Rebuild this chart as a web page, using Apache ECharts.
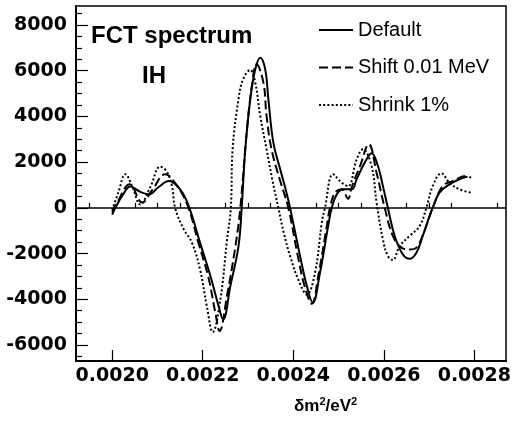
<!DOCTYPE html>
<html><head><meta charset="utf-8">
<script src="https://cdn.jsdelivr.net/npm/echarts@6/dist/echarts.min.js"></script>
<style>html,body{margin:0;padding:0;background:#fff}#c{width:514px;height:428px}</style>
</head><body><div id="c"></div>
<script>
// ---- data ----
const defaultX = [0.002000,0.002007,0.002023,0.002040,0.002062,0.002081,0.002102,0.002125,0.002150,0.002169,0.002194,0.002217,0.002235,0.002245,0.002261,0.002279,0.002286,0.002294,0.002305,0.002316,0.002327,0.002338,0.002345,0.002356,0.002371,0.002385,0.002393,0.002415,0.002430,0.002443,0.002459,0.002477,0.002485,0.002496,0.002510,0.002529,0.002540,0.002558,0.002573,0.002587,0.002598,0.002609,0.002624,0.002642,0.002657,0.002672,0.002686,0.002701,0.002708,0.002723,0.002745,0.002767,0.002785];
const defaultY = [-300,0,550,930,700,590,900,1170,810,80,-1520,-2985,-4300,-4880,-3420,-1670,0,2560,4750,6060,6570,6060,4750,2850,1700,665,0,-2110,-3420,-4150,-2840,-800,0,590,810,810,1250,1980,2385,1830,950,0,-1230,-2035,-2225,-1960,-1230,-360,0,665,1030,1250,1365];

const shiftX = [0.002000,0.002010,0.002039,0.002066,0.002089,0.002117,0.002142,0.002167,0.002190,0.002212,0.002228,0.002237,0.002254,0.002272,0.002283,0.002297,0.002309,0.002319,0.002334,0.002341,0.002352,0.002370,0.002389,0.002410,0.002426,0.002441,0.002455,0.002474,0.002481,0.002492,0.002507,0.002521,0.002529,0.002547,0.002567,0.002584,0.002602,0.002620,0.002639,0.002657,0.002672,0.002688,0.002708,0.002730,0.002752,0.002782,0.002793];
const shiftY = [-200,200,1030,230,800,1470,1000,80,-1500,-3000,-4600,-5390,-3800,-1700,0,3290,5400,6280,5480,4020,2560,1250,0,-2100,-3500,-4200,-3000,-800,0,665,810,400,900,1800,2780,1540,0,-1230,-1740,-1820,-1740,-1100,0,950,1170,1390,1320];

const shrinkX = [0.002000,0.002014,0.002029,0.002045,0.002062,0.002084,0.002106,0.002120,0.002132,0.002139,0.002158,0.002176,0.002194,0.002209,0.002222,0.002239,0.002253,0.002262,0.002266,0.002279,0.002289,0.002305,0.002316,0.002327,0.002341,0.002353,0.002367,0.002379,0.002393,0.002411,0.002430,0.002448,0.002463,0.002470,0.002488,0.002507,0.002521,0.002540,0.002554,0.002573,0.002584,0.002598,0.002609,0.002620,0.002635,0.002657,0.002679,0.002694,0.002708,0.002727,0.002745,0.002767,0.002793];
const shrinkY = [-100,700,1470,900,150,900,1800,1600,950,0,-940,-1520,-2690,-4300,-5435,-4000,-1520,0,2560,4750,5620,6030,5480,4020,2560,1300,0,-1100,-2110,-3130,-3790,-2840,-650,0,1470,1100,950,2120,2560,1830,230,-1380,-2110,-2285,-1670,-1230,-800,0,950,1510,1100,810,665];

const seriesNames = ['Default', 'Shift 0.01 MeV', 'Shrink 1%'];
const xMajorTicks = [0.0020,0.0022,0.0024,0.0026,0.0028];
const xMinorTicks = [0.00195,0.00205,0.00210,0.00215,0.00225,0.00230,0.00235,0.00245,0.00250,0.00255,0.00265,0.00270,0.00275,0.00285];
const yMajorTicks = [-6000,-4000,-2000,0,2000,4000,6000,8000];
const yMinorTicks = [-6500,-5500,-5000,-4500,-3500,-3000,-2500,-1500,-1000,-500,500,1000,1500,2500,3000,3500,4500,5000,5500,6500,7000,7500,8500];
const titleText = 'FCT spectrum';
const subText = 'IH';
const xAxisTitle = 'δm{s|2}/eV{s|2}';

const xRange = [0.00192, 0.00287];
const yRange = [-6700, 8830];

function pairs(xs, ys){ return xs.map((x,i)=>[x, ys[i]]); }

const chart = echarts.init(document.getElementById('c'), null, {renderer:'canvas'});
const tickFont = {fontFamily:'DejaVu Sans', fontWeight:'bold', fontSize:19, color:'#000'};

chart.setOption({
  animation:false,
  backgroundColor:'#fff',
  title:[
    {text:titleText, left:91, top:24, padding:0, textStyle:{fontFamily:'Liberation Sans', fontWeight:'bold', fontSize:24, color:'#000'}},
    {text:subText, left:142, top:64, padding:0, textStyle:{fontFamily:'Liberation Sans', fontWeight:'bold', fontSize:24, color:'#000'}}
  ],
  legend:{
    orient:'vertical', left:318, top:20, padding:0,
    itemWidth:34, itemHeight:14, itemGap:17.5,
    itemStyle:{opacity:0},
    textStyle:{fontFamily:'Liberation Sans', fontSize:20, color:'#000', lineHeight:20},
    data:seriesNames
  },
  grid:{left:76, right:7, top:6, bottom:67, show:true, borderColor:'#000', borderWidth:1.5, backgroundColor:'transparent'},
  xAxis:[
    {type:'value', min:xRange[0], max:xRange[1], position:'bottom',
     axisLine:{onZero:false, lineStyle:{color:'#000', width:2}},
     axisTick:{inside:true, length:11, customValues:xMajorTicks, lineStyle:{color:'#000', width:1.2}},
     axisLabel:{customValues:xMajorTicks, margin:6, formatter:v=>v.toFixed(4), ...tickFont},
     splitLine:{show:false}},
    {type:'value', min:xRange[0], max:xRange[1], position:'bottom',
     axisLine:{show:false},
     axisTick:{inside:true, length:5, customValues:xMinorTicks, lineStyle:{color:'#000', width:1.2}},
     axisLabel:{show:false}, splitLine:{show:false}}
  ],
  yAxis:[
    {type:'value', min:yRange[0], max:yRange[1], position:'left',
     axisLine:{onZero:false, show:true, lineStyle:{color:'#000', width:2}},
     axisTick:{show:true, inside:true, length:12, customValues:yMajorTicks, lineStyle:{color:'#000', width:1.2}},
     axisLabel:{customValues:yMajorTicks, margin:9, formatter:v=>String(v), ...tickFont},
     splitLine:{show:false}},
    {type:'value', min:yRange[0], max:yRange[1], position:'left',
     axisLine:{show:false},
     axisTick:{show:true, inside:true, length:6, customValues:yMinorTicks, lineStyle:{color:'#000', width:1.2}},
     axisLabel:{show:false}, splitLine:{show:false}}
  ],
  graphic:[
    {type:'text', left:294, top:396, style:{text:xAxisTitle, fontFamily:'Liberation Sans', fontWeight:'bold', fontSize:17, fill:'#000', lineHeight:20,
      rich:{s:{fontFamily:'Liberation Sans', fontWeight:'bold', fontSize:11, lineHeight:20, verticalAlign:'top', padding:[0,0,0,0]}}}}
  ],
  series:[
    {name:seriesNames[0], type:'line', data:pairs(defaultX, defaultY), xAxisIndex:0, yAxisIndex:0,
     symbol:'none', showSymbol:false, smooth:0.4,
     lineStyle:{color:'#000', width:2, type:'solid'}, itemStyle:{color:'#000'},
     markLine:{silent:true, symbol:['none','none'], label:{show:false},
       lineStyle:{color:'#000', width:1.6, type:'solid'}, data:[{yAxis:0}]}},
    {name:seriesNames[1], type:'line', data:pairs(shiftX, shiftY), xAxisIndex:0, yAxisIndex:0,
     symbol:'none', showSymbol:false, smooth:0.4,
     lineStyle:{color:'#000', width:2, type:[9,4]}, itemStyle:{color:'#000'}},
    {name:seriesNames[2], type:'line', data:pairs(shrinkX, shrinkY), xAxisIndex:0, yAxisIndex:0,
     symbol:'none', showSymbol:false, smooth:0.4,
     lineStyle:{color:'#000', width:2, type:[2,2.2]}, itemStyle:{color:'#000'}}
  ]
});
</script></body></html>
